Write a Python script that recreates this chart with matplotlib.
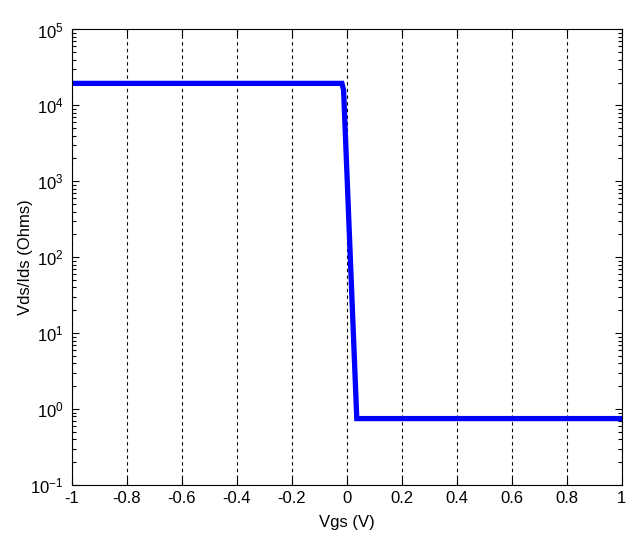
import matplotlib
matplotlib.use("Agg")
import matplotlib.pyplot as plt
import numpy as np
from matplotlib.ticker import LogLocator, FixedLocator

# data
vgs = [-1.0, -0.018, -0.012, 0.036, 1.0]
rds = [1.95e4, 1.95e4, 1.6e4, 0.75, 0.75]

xticks = [-1, -0.8, -0.6, -0.4, -0.2, 0, 0.2, 0.4, 0.6, 0.8, 1]
xticklabels = ["-1", "-0.8", "-0.6", "-0.4", "-0.2", "0", "0.2", "0.4", "0.6", "0.8", "1"]

plt.rcParams["font.family"] = ["Liberation Sans", "DejaVu Sans"]
plt.rcParams["font.size"] = 12
plt.rcParams["axes.unicode_minus"] = False
plt.rcParams["mathtext.fontset"] = "custom"
plt.rcParams["mathtext.rm"] = "Liberation Sans"
plt.rcParams["mathtext.it"] = "Liberation Sans:italic"
plt.rcParams["mathtext.default"] = "regular"

fig = plt.figure(figsize=(6.39, 5.41), dpi=100)
ax = fig.add_axes([0.1127, 0.1035, 0.8603, 0.842])

ax.plot(vgs, rds, color="#0000ff", linewidth=3.8, solid_joinstyle="miter")

ax.set_yscale("log")
ax.set_xlim(-1, 1)
ax.set_ylim(1e-1, 1e5)
ax.xaxis.set_major_locator(FixedLocator(xticks))
ax.set_xticklabels(xticklabels)
ax.yaxis.set_major_locator(LogLocator(base=10, numticks=10))
ax.yaxis.set_minor_locator(LogLocator(base=10, subs=np.arange(2, 10), numticks=20))

ax.grid(axis="x", which="major", color="black", linestyle=(0, (3, 3)), linewidth=0.8)
ax.tick_params(which="both", direction="in", top=True, right=True)
ax.tick_params(which="major", length=5, width=0.8)
ax.tick_params(axis="x", which="major", pad=4)
ax.tick_params(axis="y", which="major", pad=6)
ax.tick_params(which="minor", length=3, width=0.8)
for s in ax.spines.values():
    s.set_linewidth(0.8)

ax.set_xlabel("Vgs (V)", labelpad=7)
ax.set_ylabel("Vds/Ids (Ohms)", labelpad=-2)

fig.savefig("out.png", dpi=100)
